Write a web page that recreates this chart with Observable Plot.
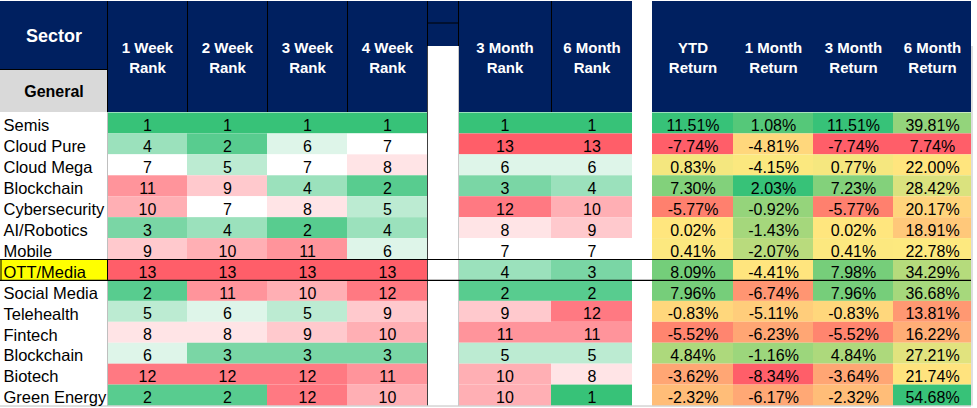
<!DOCTYPE html>
<html><head><meta charset="utf-8">
<script src="https://cdn.jsdelivr.net/npm/d3@7"></script>
<script src="https://cdn.jsdelivr.net/npm/@observablehq/plot@0.6"></script>
<style>body{margin:0;background:#fff;}#chart svg{display:block;}</style>
</head><body><div id="chart"></div>
<script>
// ---------- DATA ----------
const sectors = ["Semis","Cloud Pure","Cloud Mega","Blockchain","Cybersecurity","AI/Robotics","Mobile","OTT/Media","Social Media","Telehealth","Fintech","Blockchain","Biotech","Green Energy"];
const week1Rank  = [1,4,7,11,10,3,9,13,2,5,8,6,12,2];
const week2Rank  = [1,2,5,9,7,4,10,13,11,6,8,3,12,2];
const week3Rank  = [1,6,7,4,8,2,11,13,10,5,9,3,12,12];
const week4Rank  = [1,7,8,2,5,4,6,13,12,9,10,3,11,10];
const month3Rank = [1,13,6,3,12,8,7,4,2,9,11,5,10,10];
const month6Rank = [1,13,6,4,10,9,7,3,2,12,11,5,8,1];
const ytdReturn    = [11.51,-7.74,0.83,7.30,-5.77,0.02,0.41,8.09,7.96,-0.83,-5.52,4.84,-3.62,-2.32];
const month1Return = [1.08,-4.81,-4.15,2.03,-0.92,-1.43,-2.07,-4.41,-6.74,-5.11,-6.23,-1.16,-8.34,-6.17];
const month3Return = [11.51,-7.74,0.77,7.23,-5.77,0.02,0.41,7.98,7.96,-0.83,-5.52,4.84,-3.64,-2.32];
const month6Return = [39.81,7.74,22.00,28.42,20.17,18.91,22.78,34.29,36.68,13.81,16.22,27.21,21.74,54.68];
const rankHeaders   = ["1 Week\nRank","2 Week\nRank","3 Week\nRank","4 Week\nRank","3 Month\nRank","6 Month\nRank"];
const returnHeaders = ["YTD\nReturn","1 Month\nReturn","3 Month\nReturn","6 Month\nReturn"];
const sectorHeader = "Sector";
const groupHeader = "General";
const highlightSector = "OTT/Media";

// ---------- STYLE / LAYOUT ----------
const NAVY = "#002060", GREY = "#D9D9D9", HILITE = "#FFFF00";
const GREEN = "#37C278", RED = "#FF5E69", YELLOW = "#FFE97F", WHITE = "#FFFFFF";
const FONT = "'Liberation Sans', Arial, Helvetica, sans-serif";
const colLayout = [
  {key:"label", w:107},
  {key:"w1", w:80},{key:"w2", w:80},{key:"w3", w:80},{key:"w4", w:80},
  {key:"blank", w:31},
  {key:"m3r", w:93},{key:"m6r", w:81},
  {key:"gap", w:20},
  {key:"ytd", w:81},{key:"r1", w:80},{key:"r3", w:80},{key:"r6", w:78}
];
const HEADER_H = 112.5, ROW_H = 20.93, SECTOR_H = 69, BLANK_SPLIT = 22.5, BLANK_H = 46;
const edges = {};
{ let acc = 0; for (const c of colLayout) { edges[c.key] = [acc, acc + c.w]; acc += c.w; } }
const TABLE_W = edges.r6[1];
const TABLE_H = HEADER_H + sectors.length * ROW_H;
const mid = k => (edges[k][0] + edges[k][1]) / 2;

// ---------- BUILD TABLES ----------
const rankCols = [
  {key:"w1", values:week1Rank},{key:"w2", values:week2Rank},{key:"w3", values:week3Rank},
  {key:"w4", values:week4Rank},{key:"m3r", values:month3Rank},{key:"m6r", values:month6Rank}
];
const returnCols = [
  {key:"ytd", values:ytdReturn},{key:"r1", values:month1Return},
  {key:"r3", values:month3Return},{key:"r6", values:month6Return}
];
const rankColor = d3.scaleLinear().domain([1, 7, 13]).range([GREEN, WHITE, RED]);

const cells = [];
rankCols.forEach(c => c.values.forEach((v, i) => cells.push({
  key: c.key, row: i, fill: rankColor(v), label: String(v)
})));
returnCols.forEach(c => {
  const sc = d3.scaleLinear().domain([d3.min(c.values), d3.median(c.values), d3.max(c.values)]).range([RED, YELLOW, GREEN]);
  c.values.forEach((v, i) => cells.push({key: c.key, row: i, fill: sc(v), label: v.toFixed(2) + "%"}));
});
const rowTop = i => HEADER_H + i * ROW_H;

const headerCols = [
  ...rankCols.map((c, j) => ({key: c.key, text: rankHeaders[j]})),
  ...returnCols.map((c, j) => ({key: c.key, text: returnHeaders[j]}))
];
const hiIdx = sectors.indexOf(highlightSector);
const headerRules = ["w1","w2","w3","w4","blank","m3r","m6r"].map(k => ({x: edges[k][0]}));

const chart = Plot.plot({
  width: 977, height: 408, margin: 0,
  x: {type: "linear", domain: [0, 977], range: [0, 977], axis: null},
  y: {type: "linear", domain: [0, 408], range: [0, 408], axis: null},
  color: {type: "identity"},
  style: {fontFamily: FONT, background: "#fff"},
  marks: [
    Plot.rect(headerCols, {x1: d => edges[d.key][0], x2: d => edges[d.key][1], y1: 1, y2: HEADER_H - 0.5, fill: NAVY}),
    Plot.rect([sectorHeader], {x1: edges.label[0], x2: edges.label[1], y1: 1, y2: SECTOR_H, fill: NAVY}),
    Plot.rect([groupHeader], {x1: edges.label[0], x2: edges.label[1], y1: SECTOR_H, y2: HEADER_H - 0.5, fill: GREY}),
    Plot.rect(["blank"], {x1: edges.blank[0], x2: edges.blank[1], y1: 1, y2: BLANK_H, fill: NAVY}),
    Plot.rect(cells, {x1: d => edges[d.key][0], x2: d => edges[d.key][1], y1: d => rowTop(d.row), y2: d => rowTop(d.row) + ROW_H, fill: "fill"}),
    Plot.rect([highlightSector], {x1: edges.label[0], x2: edges.label[1], y1: rowTop(hiIdx), y2: rowTop(hiIdx) + ROW_H, fill: HILITE}),
    Plot.ruleX(headerRules, {x: "x", y1: 1, y2: HEADER_H - 0.5, stroke: "#000", strokeWidth: 1}),
    Plot.ruleX([edges.label[1]], {y1: 1, y2: HEADER_H - 0.5, stroke: "#000", strokeWidth: 1}),
    Plot.ruleY([SECTOR_H], {x1: edges.label[0], x2: edges.label[1], stroke: "#000", strokeWidth: 1}),
    Plot.ruleY([BLANK_SPLIT], {x1: edges.blank[0], x2: edges.blank[1], stroke: "#000", strokeWidth: 1}),
    Plot.ruleX([edges.label[1]], {y1: HEADER_H, y2: TABLE_H, stroke: "#BFBFBF", strokeWidth: 1}),
    Plot.ruleX([edges.blank[0]], {y1: BLANK_H, y2: TABLE_H, stroke: "#404040", strokeWidth: 1}),
    Plot.ruleX([edges.blank[1]], {y1: BLANK_H, y2: TABLE_H, stroke: "#C8C8C8", strokeWidth: 1}),
    Plot.ruleX([TABLE_W + 0.5], {y1: BLANK_H, y2: TABLE_H, stroke: "#BFBFBF", strokeWidth: 1}),
    Plot.ruleY([TABLE_H], {x1: 0, x2: TABLE_W, stroke: "#BFBFBF", strokeWidth: 1}),
    Plot.ruleY([rowTop(hiIdx), rowTop(hiIdx) + ROW_H], {x1: 0, x2: TABLE_W, stroke: "#000", strokeWidth: 1.2}),
    Plot.ruleX([0.5, edges.label[1]], {y1: rowTop(hiIdx), y2: rowTop(hiIdx) + ROW_H, stroke: "#000", strokeWidth: 1}),
    Plot.text(headerCols, {x: d => mid(d.key), y: HEADER_H / 2, text: "text", fill: "#fff", fontWeight: "bold", fontSize: 15, lineHeight: 1.33}),
    Plot.text([sectorHeader], {x: mid("label"), y: SECTOR_H / 2 + 1, text: d => d, fill: "#fff", fontWeight: "bold", fontSize: 18}),
    Plot.text([groupHeader], {x: mid("label"), y: (SECTOR_H + HEADER_H) / 2 + 0.5, text: d => d, fill: "#000", fontWeight: "bold", fontSize: 16}),
    Plot.text(sectors, {x: edges.label[0] + 3, y: (d, i) => rowTop(i) + ROW_H / 2, text: d => d, textAnchor: "start", fill: "#000", fontSize: 16.5, dy: 2.5}),
    Plot.text(cells, {x: d => mid(d.key), y: d => rowTop(d.row) + ROW_H / 2, text: "label", fill: "#000", fontSize: 16, dy: 2.5})
  ]
});
document.getElementById("chart").append(chart);
</script>
</body></html>
